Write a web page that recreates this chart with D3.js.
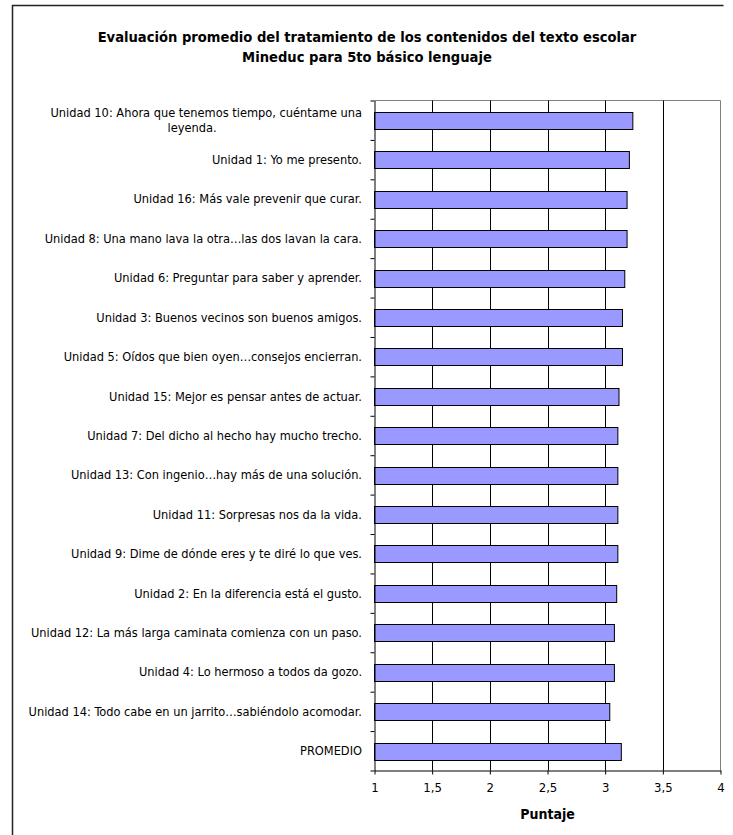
<!DOCTYPE html>
<html>
<head>
<meta charset="utf-8">
<script src="https://cdn.jsdelivr.net/npm/d3@7"></script>
<style>
  html, body { margin: 0; padding: 0; background: #fff; }
  svg { display: block; }
</style>
</head>
<body>
<svg id="chart" width="733" height="835"></svg>
<script>
const titleLines = ["Evaluación promedio del tratamiento de los contenidos del texto escolar", "Mineduc para 5to básico lenguaje"];
const categories = [
  "Unidad 10: Ahora que tenemos tiempo, cuéntame una|leyenda.",
  "Unidad 1: Yo me presento.",
  "Unidad 16: Más vale prevenir que curar.",
  "Unidad 8: Una mano lava la otra…las dos lavan la cara.",
  "Unidad 6: Preguntar para saber y aprender.",
  "Unidad 3: Buenos vecinos son buenos amigos.",
  "Unidad 5: Oídos que bien oyen…consejos encierran.",
  "Unidad 15: Mejor es pensar antes de actuar.",
  "Unidad 7: Del dicho al hecho hay mucho trecho.",
  "Unidad 13: Con ingenio…hay más de una solución.",
  "Unidad 11: Sorpresas nos da la vida.",
  "Unidad 9: Dime de dónde eres y te diré lo que ves.",
  "Unidad 2: En la diferencia está el gusto.",
  "Unidad 12: La más larga caminata comienza con un paso.",
  "Unidad 4: Lo hermoso a todos da gozo.",
  "Unidad 14: Todo cabe en un jarrito…sabiéndolo acomodar.",
  "PROMEDIO"
];
const values = [3.24, 3.21, 3.19, 3.19, 3.17, 3.15, 3.15, 3.12, 3.11, 3.11, 3.11, 3.11, 3.10, 3.08, 3.08, 3.04, 3.14];
const xTicks = [1, 1.5, 2, 2.5, 3, 3.5, 4];
const xTickLabels = ["1", "1,5", "2", "2,5", "3", "3,5", "4"];
const xTitle = "Puntaje";

const FONT = "'DejaVu Sans Condensed', 'DejaVu Sans', sans-serif";
const svg = d3.select("#chart");

const plot = { left: 374.5, right: 720.5, top: 100.5, bottom: 770.5 };
const x = d3.scaleLinear().domain([1, 4]).range([plot.left, plot.right]);
const y = d3.scaleBand().domain(categories).range([plot.top, plot.bottom]).paddingInner(0.58).paddingOuter(0.29);
const yIdx = d3.scaleLinear().domain([0, categories.length]).range([plot.top, plot.bottom]);

// outer chart frame
svg.append("path")
  .attr("d", "M12.5,836 L12.5,5.5 L723.5,5.5")
  .attr("fill", "none").attr("stroke", "#222").attr("stroke-width", 1.5);

// title
const title = svg.append("text")
  .attr("text-anchor", "middle")
  .attr("font-family", FONT)
  .attr("font-weight", "bold")
  .attr("font-size", 14.6)
  .attr("fill", "#000");
titleLines.forEach((t, i) => {
  title.append("tspan").attr("x", 367).attr("y", 42 + i * 20).text(t);
});

// plot frame (top and right, gray)
svg.append("path")
  .attr("d", `M${plot.left},${plot.top} L${plot.right},${plot.top} L${plot.right},${plot.bottom}`)
  .attr("fill", "none").attr("stroke", "#808080").attr("stroke-width", 1);

// gridlines
svg.append("g").selectAll("line")
  .data(xTicks.filter(d => d > 1 && d < 4))
  .join("line")
  .attr("x1", d => Math.round(x(d)) + 0.5).attr("x2", d => Math.round(x(d)) + 0.5)
  .attr("y1", plot.top).attr("y2", plot.bottom)
  .attr("stroke", "#000").attr("stroke-width", 1);

// bars
svg.append("g").selectAll("rect")
  .data(categories)
  .join("rect")
  .attr("x", x(1))
  .attr("y", d => Math.round(y(d)) + 0.5)
  .attr("width", (d, i) => x(values[i]) - x(1))
  .attr("height", Math.round(y.bandwidth()))
  .attr("fill", "#9999FF")
  .attr("stroke", "#000")
  .attr("stroke-width", 1);

// y axis (ticks between categories)
const yAxis = d3.axisLeft(yIdx).ticks(categories.length).tickFormat("").tickSize(4).tickSizeOuter(0);
const gy = svg.append("g").attr("transform", `translate(${plot.left},0)`).call(yAxis);
gy.select(".domain").attr("stroke", "#000");
gy.selectAll(".tick line").attr("stroke", "#000");

// y labels
const labels = svg.append("g")
  .attr("font-family", FONT)
  .attr("font-size", 12.7)
  .attr("fill", "#000");
categories.forEach((c, i) => {
  const cy = y(c) + y.bandwidth() / 2;
  const parts = c.split("|");
  if (parts.length === 1) {
    labels.append("text").attr("x", 362).attr("y", cy).attr("dy", "0.35em")
      .attr("text-anchor", "end").text(c);
  } else {
    labels.append("text").attr("x", 362).attr("y", cy - 8).attr("dy", "0.35em")
      .attr("text-anchor", "end").text(parts[0]);
    labels.append("text").attr("x", 192).attr("y", cy + 7).attr("dy", "0.35em")
      .attr("text-anchor", "middle").text(parts[1]);
  }
});

// x axis
const xAxis = d3.axisBottom(x).tickValues(xTicks).tickFormat((d, i) => xTickLabels[i]).tickSize(4).tickSizeOuter(0);
const gx = svg.append("g").attr("transform", `translate(0,${plot.bottom})`).call(xAxis);
gx.select(".domain").attr("stroke", "#000");
gx.selectAll(".tick line").attr("stroke", "#000");
gx.selectAll(".tick text")
  .attr("font-family", FONT).attr("font-size", 13).attr("fill", "#000").attr("dy", "0.71em").attr("y", 12);

// x title
svg.append("text")
  .attr("x", (plot.left + plot.right) / 2).attr("y", 819)
  .attr("text-anchor", "middle")
  .attr("font-family", FONT).attr("font-weight", "bold").attr("font-size", 14)
  .text(xTitle);
</script>
</body>
</html>
